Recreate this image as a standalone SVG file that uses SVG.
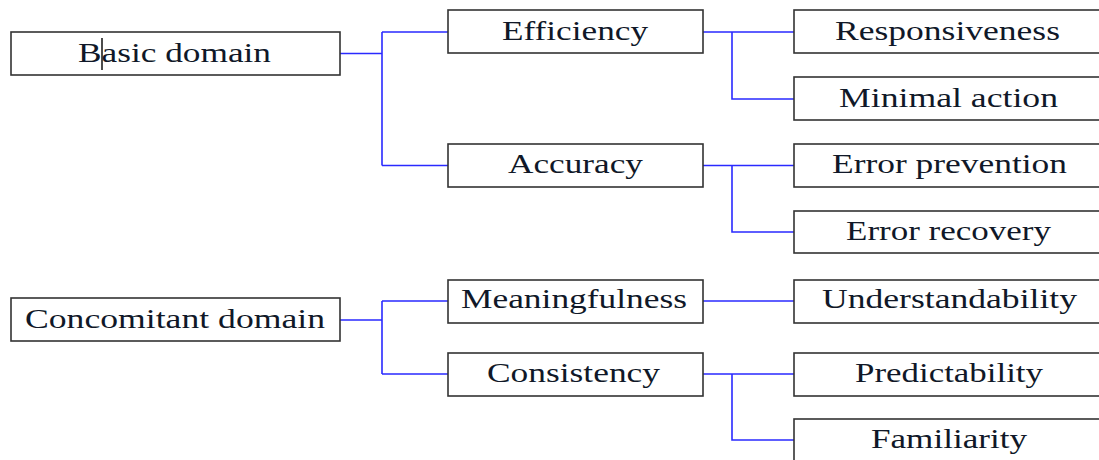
<svg xmlns="http://www.w3.org/2000/svg" width="1099" height="460" viewBox="0 0 1099 460">
<style>
.box{fill:#fff;stroke:#333;stroke-width:1.6}
.lbl{font-family:"Liberation Serif","Times New Roman",serif;font-size:27px;fill:#101828}
.con{fill:none;stroke:#2a2aff;stroke-width:1.6}
</style>
<rect width="1099" height="460" fill="#fff"/>
<g id="connectors">
<path class="con" d="M340 53.5H382M382 32V165.5M382 32H448M382 165.5H448"/>
<path class="con" d="M703 32H794M732 32V99H794"/>
<path class="con" d="M703 165.5H794M732 165.5V232H794"/>
<path class="con" d="M340 320H382M382 301V374M382 301H448M382 374H448"/>
<path class="con" d="M703 301H794"/>
<path class="con" d="M703 374H794M732 374V440H794"/>
</g>
<g id="basic"><rect class="box" x="11" y="32" width="329" height="43"/><text class="lbl" x="78" y="62" textLength="193" lengthAdjust="spacingAndGlyphs">Basic domain</text><line x1="102" y1="38" x2="102" y2="70" stroke="#111" stroke-width="1.5"/></g>
<g id="efficiency"><rect class="box" x="448" y="10" width="255" height="43"/><text class="lbl" x="502" y="40" textLength="146" lengthAdjust="spacingAndGlyphs">Efficiency</text></g>
<g id="accuracy"><rect class="box" x="448" y="144" width="255" height="43"/><text class="lbl" x="508" y="173" textLength="135" lengthAdjust="spacingAndGlyphs">Accuracy</text></g>
<g id="responsiveness"><rect class="box" x="794" y="10" width="320" height="43"/><text class="lbl" x="835" y="40" textLength="225" lengthAdjust="spacingAndGlyphs">Responsiveness</text></g>
<g id="minimal"><rect class="box" x="794" y="77" width="320" height="43"/><text class="lbl" x="839" y="107" textLength="219" lengthAdjust="spacingAndGlyphs">Minimal action</text></g>
<g id="errprev"><rect class="box" x="794" y="144" width="320" height="43"/><text class="lbl" x="832" y="173" textLength="235" lengthAdjust="spacingAndGlyphs">Error prevention</text></g>
<g id="errrec"><rect class="box" x="794" y="211" width="320" height="42"/><text class="lbl" x="846" y="240" textLength="205" lengthAdjust="spacingAndGlyphs">Error recovery</text></g>
<g id="concomitant"><rect class="box" x="11" y="298" width="329" height="43"/><text class="lbl" x="25" y="328" textLength="300" lengthAdjust="spacingAndGlyphs">Concomitant domain</text></g>
<g id="meaningfulness"><rect class="box" x="448" y="280" width="255" height="43"/><text class="lbl" x="461" y="308" textLength="226" lengthAdjust="spacingAndGlyphs">Meaningfulness</text></g>
<g id="consistency"><rect class="box" x="448" y="353" width="255" height="43"/><text class="lbl" x="487" y="382" textLength="173" lengthAdjust="spacingAndGlyphs">Consistency</text></g>
<g id="understandability"><rect class="box" x="794" y="280" width="320" height="43"/><text class="lbl" x="822" y="308" textLength="255" lengthAdjust="spacingAndGlyphs">Understandability</text></g>
<g id="predictability"><rect class="box" x="794" y="353" width="320" height="43"/><text class="lbl" x="855" y="382" textLength="188" lengthAdjust="spacingAndGlyphs">Predictability</text></g>
<g id="familiarity"><rect class="box" x="794" y="419" width="320" height="43"/><text class="lbl" x="871" y="448" textLength="156" lengthAdjust="spacingAndGlyphs">Familiarity</text></g>
</svg>
